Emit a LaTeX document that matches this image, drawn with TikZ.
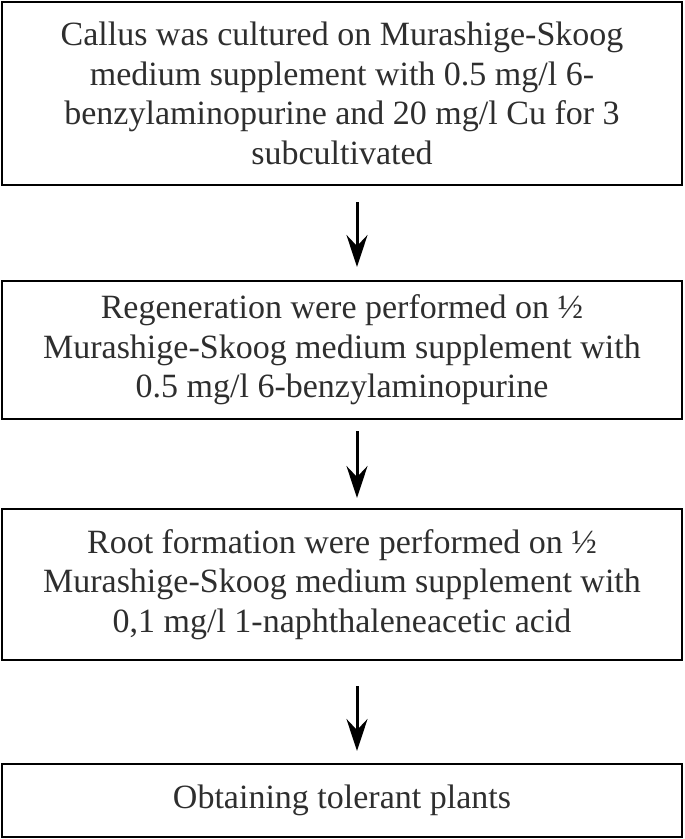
\documentclass[tikz,border=0pt]{standalone}
\usepackage{fontspec}
\setmainfont{Liberation Serif}
\usetikzlibrary{arrows.meta}
\tikzset{
  stepbox/.style={draw, line width=2pt, minimum width=680pt, align=center,
    inner sep=0pt, text=black!82,
    font=\fontsize{34}{39.5}\selectfont},
  flow/.style={-{Stealth[length=32pt,width=21pt,inset=11pt]}, line width=3pt}
}
\begin{document}
\begin{tikzpicture}[x=1pt,y=-1pt]
  \useasboundingbox (0,0) rectangle (685,839);
  \draw
    (342,93.5) node[stepbox, minimum height=183pt] (callus)
      {Callus was cultured on Murashige-Skoog\\
       medium supplement with 0.5 mg/l 6-\\
       benzylaminopurine and 20 mg/l Cu for 3\\
       subcultivated}
    (342,350) node[stepbox, minimum height=138pt] (regen)
      {Regeneration were performed on ½\\
       Murashige-Skoog medium supplement with\\
       0.5 mg/l 6-benzylaminopurine}
    (342,584.5) node[stepbox, minimum height=151pt] (root)
      {Root formation were performed on ½\\
       Murashige-Skoog medium supplement with\\
       0,1 mg/l 1-naphthaleneacetic acid}
    (342,800.5) node[stepbox, minimum height=73pt] (plants)
      {Obtaining tolerant plants};
  \begin{scope}[flow]
    \draw[shorten <=16pt, shorten >=13pt]
      ([xshift=15pt]callus.south) to ([xshift=15pt]regen.north);
    \draw[shorten <=11pt, shorten >=10pt]
      ([xshift=15pt]regen.south) to ([xshift=15pt]root.north);
    \draw[shorten <=25pt, shorten >=12pt]
      ([xshift=15pt]root.south) to ([xshift=15pt]plants.north);
  \end{scope}
\end{tikzpicture}
\end{document}
